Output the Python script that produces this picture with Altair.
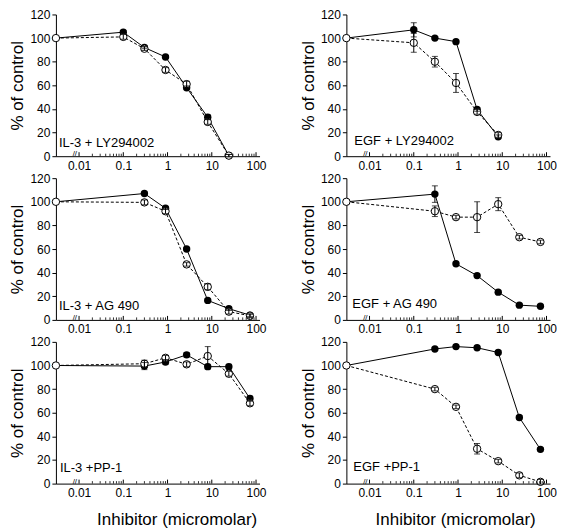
import altair as alt
import pandas as pd

FONT = "Liberation Sans"
W, H = 204, 142
XMIN, XMAX = 0.003, 120

# ---------------- data ----------------
labels = ["IL-3 + LY294002", "EGF + LY294002",
          "IL-3 + AG 490", "EGF + AG 490",
          "IL-3 +PP-1", "EGF +PP-1"]

conc_ly1 = [0.003, 0.1, 0.3, 0.9, 2.7, 8.1, 24.3]
conc_ly2 = [0.003, 0.1, 0.3, 0.9, 2.7, 8.1]
conc_std = [0.003, 0.3, 0.9, 2.7, 8.1, 24.3, 72.9]

# panel 1: IL-3 + LY294002
p1_filled = [100, 105, 92, 84, 58, 33, 0.5]
p1_open = [100, 101, 91, 73, 61, 29, 0.5]
p1_ferr = [0, 1.5, 1, 1, 1.5, 2, 1]
p1_oerr = [0, 2, 1.5, 2, 2.5, 2, 1]

# panel 2: EGF + LY294002
p2_filled = [100, 107, 100, 97, 39.5, 16.5]
p2_open = [100, 96, 80, 62, 37.5, 18]
p2_ferr = [0, 6, 1, 1, 1.5, 1.5]
p2_oerr = [0, 8, 4.5, 8, 2, 2]

# panel 3: IL-3 + AG 490
p3_filled = [100, 107, 94.5, 60, 16.5, 9.5, 4]
p3_open = [100, 99.5, 92, 47, 28, 7, 3.5]
p3_ferr = [0, 1, 1, 1, 1, 1.5, 1]
p3_oerr = [0, 2, 2, 1.5, 2.5, 2, 1.5]

# panel 4: EGF + AG 490
p4_filled = [100, 106.5, 47.5, 37.5, 23.5, 12.5, 11.5]
p4_open = [100, 92, 87, 87, 98, 70, 66]
p4_ferr = [0, 7, 1, 1, 1, 1, 1]
p4_oerr = [0, 4.5, 1.5, 13, 5.5, 1.5, 1.5]

# panel 5: IL-3 +PP-1
p5_filled = [100, 99.5, 103, 109, 99, 99, 72]
p5_open = [100, 101.5, 106.5, 101, 108, 93, 68]
p5_ferr = [0, 3, 2, 2, 2, 2, 2]
p5_oerr = [0, 3, 2, 2, 8, 2, 2]

# panel 6: EGF +PP-1
p6_filled = [100, 114, 116, 115, 111, 56, 29]
p6_open = [100, 80, 65, 29.5, 19, 7, 1.5]
p6_ferr = [0, 1, 1, 1, 1.5, 1.5, 1.5]
p6_oerr = [0, 1.5, 1.5, 4.5, 1.5, 2, 2]

x_tick_values = [0.01, 0.1, 1, 10, 100]
x_minor_mult = [2, 3, 4, 5, 6, 7, 8, 9]
y_tick_values = [0, 20, 40, 60, 80, 100, 120]

major_ticks = pd.DataFrame({"t": x_tick_values})
minor_ticks = pd.DataFrame({"t": [d * m for d in x_tick_values[:-1] for m in x_minor_mult]})


def panel(label, conc, filled, opn, ferr, oerr, bottom, left, lab_dx, lab_dy):
    rows = []
    for i, (xi, f, o, a, b) in enumerate(zip(conc, filled, opn, ferr, oerr)):
        rows.append(dict(x=xi, v=f, lo=f - a, hi=f + a, e=a, s="filled", c=int(i == 0)))
        rows.append(dict(x=xi, v=o, lo=o - b, hi=o + b, e=b, s="open", c=int(i == 0)))
    df = pd.DataFrame(rows)

    xs = alt.Scale(type="log", domain=[XMIN, XMAX])
    ys = alt.Scale(domain=[0, 120])
    xaxis_kw = dict(values=x_tick_values, format="~g", ticks=False, tickSize=0,
                    grid=False, labelPadding=4, labelFontSize=12, labelFont=FONT,
                    labelColor="black", domainColor="black", labelFlush=False)
    if bottom:
        xaxis = alt.Axis(title="Inhibitor (micromolar)", titleFontSize=17, titleFont=FONT,
                         titleFontWeight="normal", titleColor="black", titlePadding=13,
                         titleX=121 if left else 109, **xaxis_kw)
    else:
        xaxis = alt.Axis(title=None, **xaxis_kw)
    yaxis = alt.Axis(values=y_tick_values, title="% of control", titleFontSize=17,
                     titleFont=FONT, titleFontWeight="normal", titleColor="black",
                     titlePadding=3, tickSize=4, tickColor="black", labelPadding=2,
                     labelFontSize=12, labelFont=FONT, labelColor="black",
                     domainColor="black", grid=False)
    X = alt.X("x:Q", scale=xs, axis=xaxis)
    Y = alt.Y("v:Q", scale=ys, axis=yaxis)

    base = alt.Chart(df)
    filled_line = base.transform_filter("datum.s == 'filled'").mark_line(
        color="black", strokeWidth=1).encode(x=X, y=Y)
    open_line = base.transform_filter("datum.s == 'open'").mark_line(
        color="black", strokeWidth=1, strokeDash=[3, 2]).encode(x=X, y=Y)
    filled_pts = base.transform_filter("datum.s == 'filled' && datum.c == 0").mark_point(
        shape="circle", size=55, filled=True, color="black", opacity=1).encode(x=X, y=Y)
    open_pts = base.transform_filter("datum.s == 'open'").mark_point(
        shape="circle", size=55, filled=False, fill="white", fillOpacity=1,
        stroke="black", strokeWidth=1, opacity=1).encode(x=X, y=Y)
    errs = base.transform_filter("datum.e > 0")
    err_rule = errs.mark_rule(color="black", strokeWidth=1).encode(
        x=X, y=alt.Y("lo:Q", scale=ys, axis=yaxis), y2="hi:Q")
    err_lo = errs.mark_tick(color="black", orient="horizontal", size=6, thickness=1).encode(
        x=X, y=alt.Y("lo:Q", scale=ys, axis=yaxis))
    err_hi = errs.mark_tick(color="black", orient="horizontal", size=6, thickness=1).encode(
        x=X, y=alt.Y("hi:Q", scale=ys, axis=yaxis))

    tick_major = alt.Chart(major_ticks).mark_rule(color="black", strokeWidth=1).encode(
        x=alt.X("t:Q", scale=xs, axis=xaxis), y=alt.value(H), y2=alt.value(H - 4))
    tick_minor = alt.Chart(minor_ticks).mark_rule(color="black", strokeWidth=0.8).encode(
        x=alt.X("t:Q", scale=xs, axis=xaxis), y=alt.value(H), y2=alt.value(H - 2.5))

    brk = alt.Chart(pd.DataFrame({"t": ["//"]})).mark_text(
        fontSize=8, font=FONT, color="black", align="center", baseline="middle").encode(
        x=alt.value(19), y=alt.value(H - 2), text="t:N")
    lab = alt.Chart(pd.DataFrame({"t": [label]})).mark_text(
        fontSize=13, font=FONT, color="black", align="left", baseline="middle").encode(
        x=alt.value(lab_dx), y=alt.value(H - lab_dy), text="t:N")

    return alt.layer(filled_line, open_line, filled_pts, open_pts,
                     err_rule, err_lo, err_hi, tick_major, tick_minor, brk, lab
                     ).properties(width=W, height=H)


panels = [
    panel(labels[0], conc_ly1, p1_filled, p1_open, p1_ferr, p1_oerr, False, True, 3, 13),
    panel(labels[1], conc_ly2, p2_filled, p2_open, p2_ferr, p2_oerr, False, False, 8, 15),
    panel(labels[2], conc_std, p3_filled, p3_open, p3_ferr, p3_oerr, False, True, 3, 14),
    panel(labels[3], conc_std, p4_filled, p4_open, p4_ferr, p4_oerr, False, False, 6, 16),
    panel(labels[4], conc_std, p5_filled, p5_open, p5_ferr, p5_oerr, True, True, 4, 16),
    panel(labels[5], conc_std, p6_filled, p6_open, p6_ferr, p6_oerr, True, False, 7, 17),
]

chart = alt.concat(*panels, columns=2, spacing={"row": 1, "column": 32}).properties(
    padding=0
).configure_view(stroke=None)

chart.save("out.html", embed_options={"renderer": "svg", "actions": False})
